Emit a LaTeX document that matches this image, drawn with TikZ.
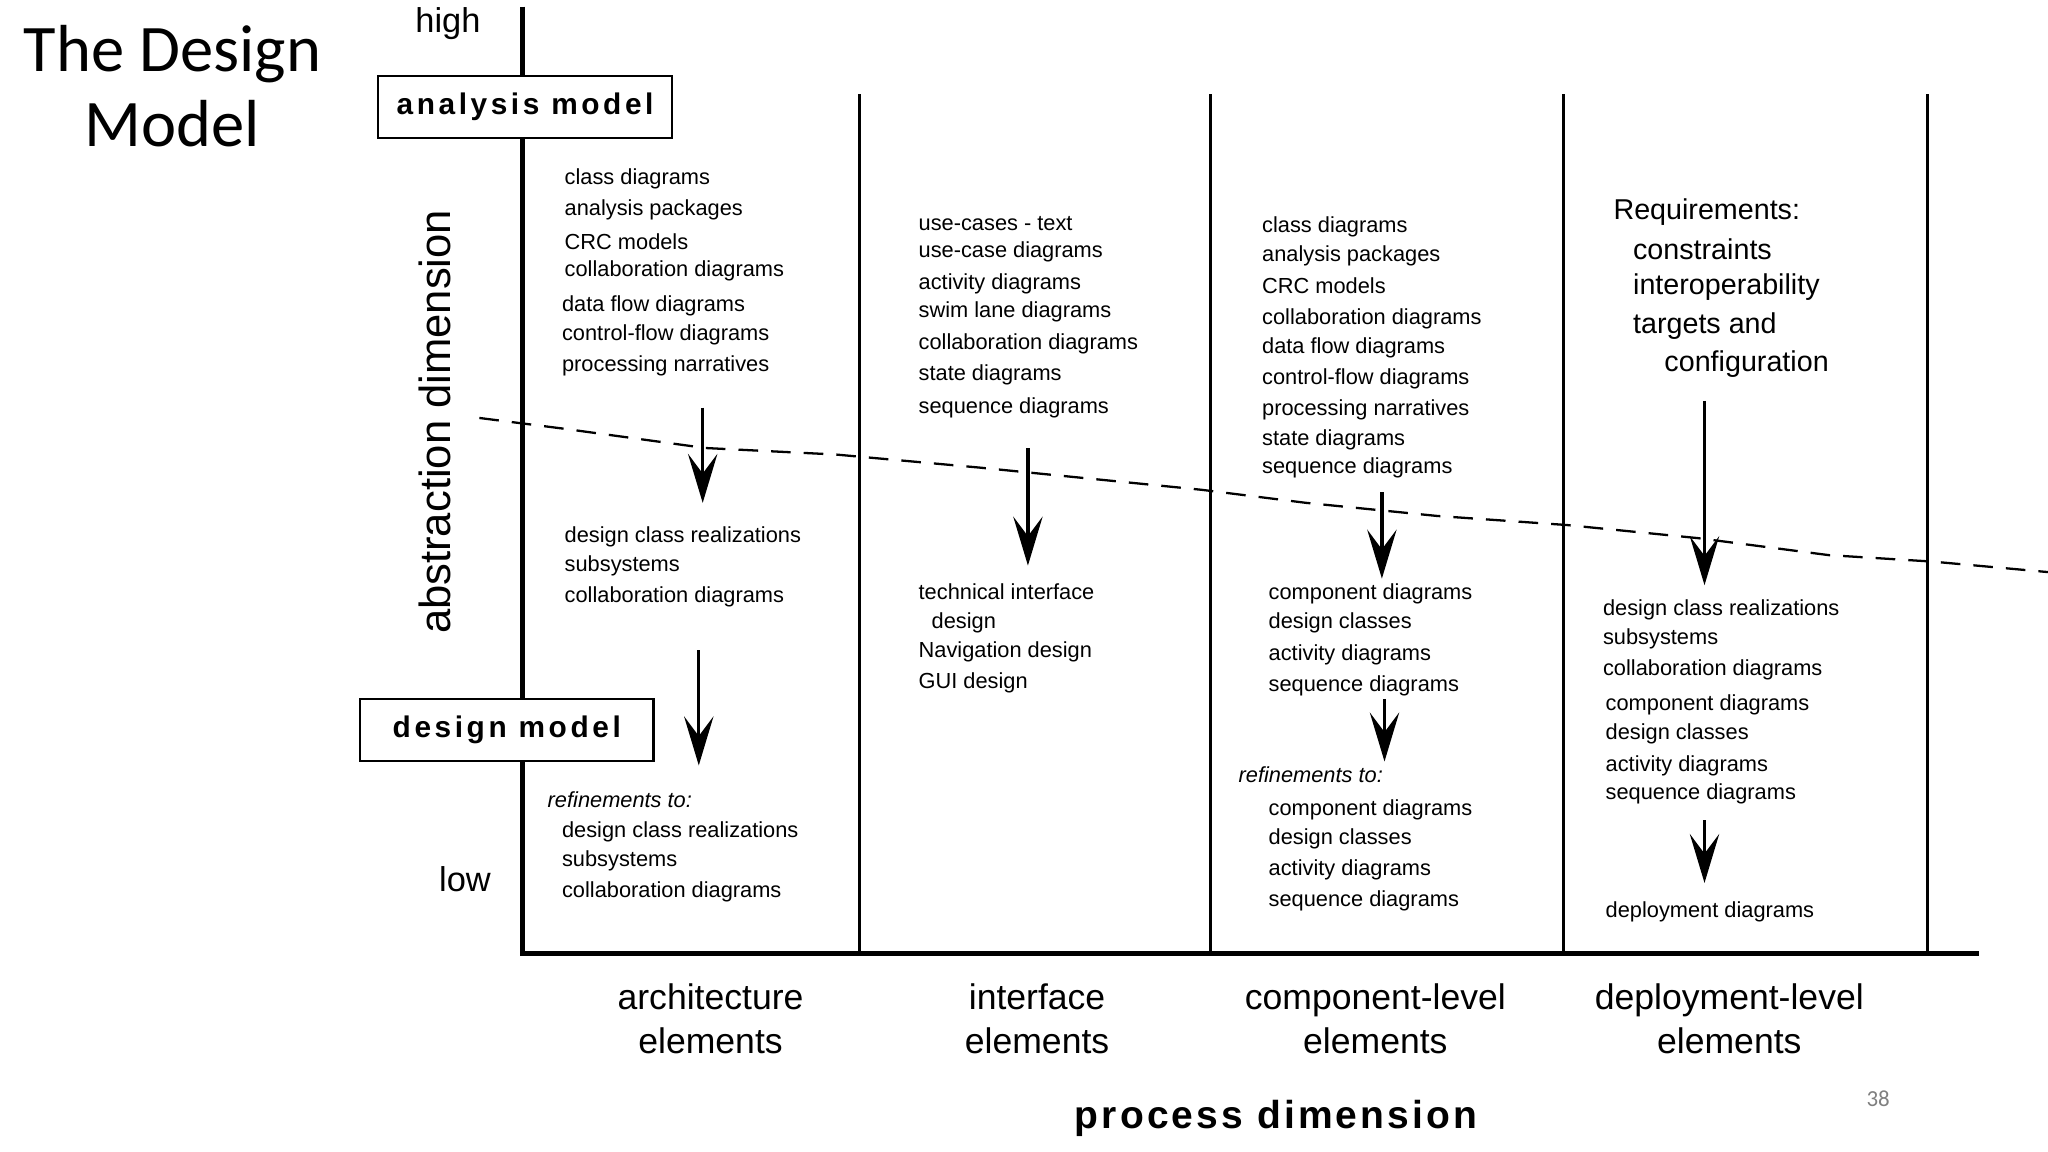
\documentclass[tikz,border=0pt]{standalone}
\usepackage{fontspec}
\setmainfont{Liberation Sans}
\newfontfamily\titlefont{Carlito}
\usetikzlibrary{arrows.meta}
\begin{document}
\begin{tikzpicture}[x=0.02cm,y=-0.02cm,
  txt/.style={anchor=west,inner sep=0pt,font=\fontsize{9.5}{11}\selectfont},
  big/.style={inner sep=0pt,font=\fontsize{15.5}{19}\selectfont,align=center},
  axis/.style={line width=0.08cm},
  col/.style={line width=0.045cm},
  darr/.style={line width=0.05cm,-{Stealth[length=0.75cm,width=0.45cm,inset=0.3cm]}},
  box/.style={draw,line width=0.04cm,minimum width=4.5cm,minimum height=0.95cm,fill=white,font=\fontsize{13}{15}\selectfont\bfseries\addfontfeatures{LetterSpace=12}}]
\useasboundingbox[fill=white] (0,0) rectangle (1568,882);
\node[font=\titlefont\fontsize{29}{33}\selectfont,align=center] (title) at (132,66) {The Design\\Model};
% axes
\coordinate (atop) at (400,5); \coordinate (aorig) at (400,730); \coordinate (aend) at (1515,730);
\draw[axis] (atop) -- (aorig) -- (aend);
\foreach \x [count=\i] in {658,927,1197,1476}{
  \coordinate (ct\i) at (\x,72); \coordinate (cb\i) at (\x,730);
  \draw[col] (ct\i) -- (cb\i);}
\node[font=\fontsize{15}{18}\selectfont] (high) at (343,18) {high};
\node[font=\fontsize{15}{18}\selectfont] (low) at (356,673) {low};
\node[rotate=90,font=\fontsize{19}{22}\selectfont] (abs) at (333,323) {abstraction dimension};
% dashed
\draw[line width=0.035cm,dash pattern=on 0.3cm off 0.2cm] (367,320) -- (430,328) -- (540,343) -- (640,348) -- (750,358) -- (850,368) -- (920,375) -- (1000,385) -- (1100,395) -- (1200,402) -- (1300,412) -- (1400,425) -- (1480,430) -- (1568,438);
\node[box] (am) at (402,82) {analysis model};
\node[box] (dm) at (388,559) {design model};
% arrows
\foreach \x/\a/\b [count=\i] in {538/312/385, 535/498/586, 787/343/433, 1058/377/443, 1060/535/583, 1305/307/448, 1305/628/676}{
  \coordinate (s\i) at (\x,\a); \coordinate (e\i) at (\x,\b);
  \draw[darr] (s\i) -- (e\i);}
% column 1
\foreach \x/\y/\t [count=\i] in {432/137/class diagrams,432/161/analysis packages,432/185/CRC models,432/207/collaboration diagrams,430/234/data flow diagrams,430/256/control-flow diagrams,430/280/processing narratives,432/411/design class realizations,432/433/subsystems,432/457/collaboration diagrams,430/637/design class realizations,430/659/subsystems,430/683/collaboration diagrams}
  \node[txt] (a\i) at (\x,\y) {\t};
\node[txt,font=\fontsize{9.5}{11}\selectfont\itshape] (ar) at (419,612) {refinements to:};
% column 2
\foreach \x/\y/\t [count=\i] in {703/171/use-cases - text,703/193/use-case diagrams,703/217/activity diagrams,703/239/swim lane diagrams,703/263/collaboration diagrams,703/287/state diagrams,703/312/sequence diagrams,703/453/technical interface,713/477/design,703/499/Navigation design,703/523/GUI design}
  \node[txt] (b\i) at (\x,\y) {\t};
% column 3
\foreach \x/\y/\t [count=\i] in {966/174/class diagrams,966/196/analysis packages,966/219/CRC models,966/244/collaboration diagrams,966/266/data flow diagrams,966/290/control-flow diagrams,966/314/processing narratives,966/337/state diagrams,966/358/sequence diagrams,971/455/component diagrams,971/477/design classes,971/501/activity diagrams,971/525/sequence diagrams,971/620/component diagrams,971/642/design classes,971/666/activity diagrams,971/690/sequence diagrams}
  \node[txt] (c\i) at (\x,\y) {\t};
\node[txt,font=\fontsize{9.5}{11}\selectfont\itshape] (cr) at (948,593) {refinements to:};
% column 4
\foreach \x/\y/\t [count=\i] in {1235/162/Requirements:,1250/191/constraints,1250/220/interoperability,1250/250/targets and,1274/279/configuration}
  \node[txt,font=\fontsize{12.5}{15}\selectfont] (r\i) at (\x,\y) {\t};
\foreach \x/\y/\t [count=\i] in {1227/467/design class realizations,1227/489/subsystems,1227/513/collaboration diagrams,1229/540/component diagrams,1229/562/design classes,1229/586/activity diagrams,1229/608/sequence diagrams,1229/698/deployment diagrams}
  \node[txt] (d\i) at (\x,\y) {\t};
% bottom
\node[big] (l1) at (544,780) {architecture\\elements};
\node[big] (l2) at (794,780) {interface\\elements};
\node[big] (l3) at (1053,780) {component-level\\elements};
\node[big] (l4) at (1324,780) {deployment-level\\elements};
\node[font=\fontsize{17}{20}\selectfont\bfseries\addfontfeatures{LetterSpace=8}] (pd) at (977,856) {process dimension};
\node[font=\titlefont\fontsize{10}{12}\selectfont,text=gray] (pg) at (1438,841) {38};
\end{tikzpicture}
\end{document}
